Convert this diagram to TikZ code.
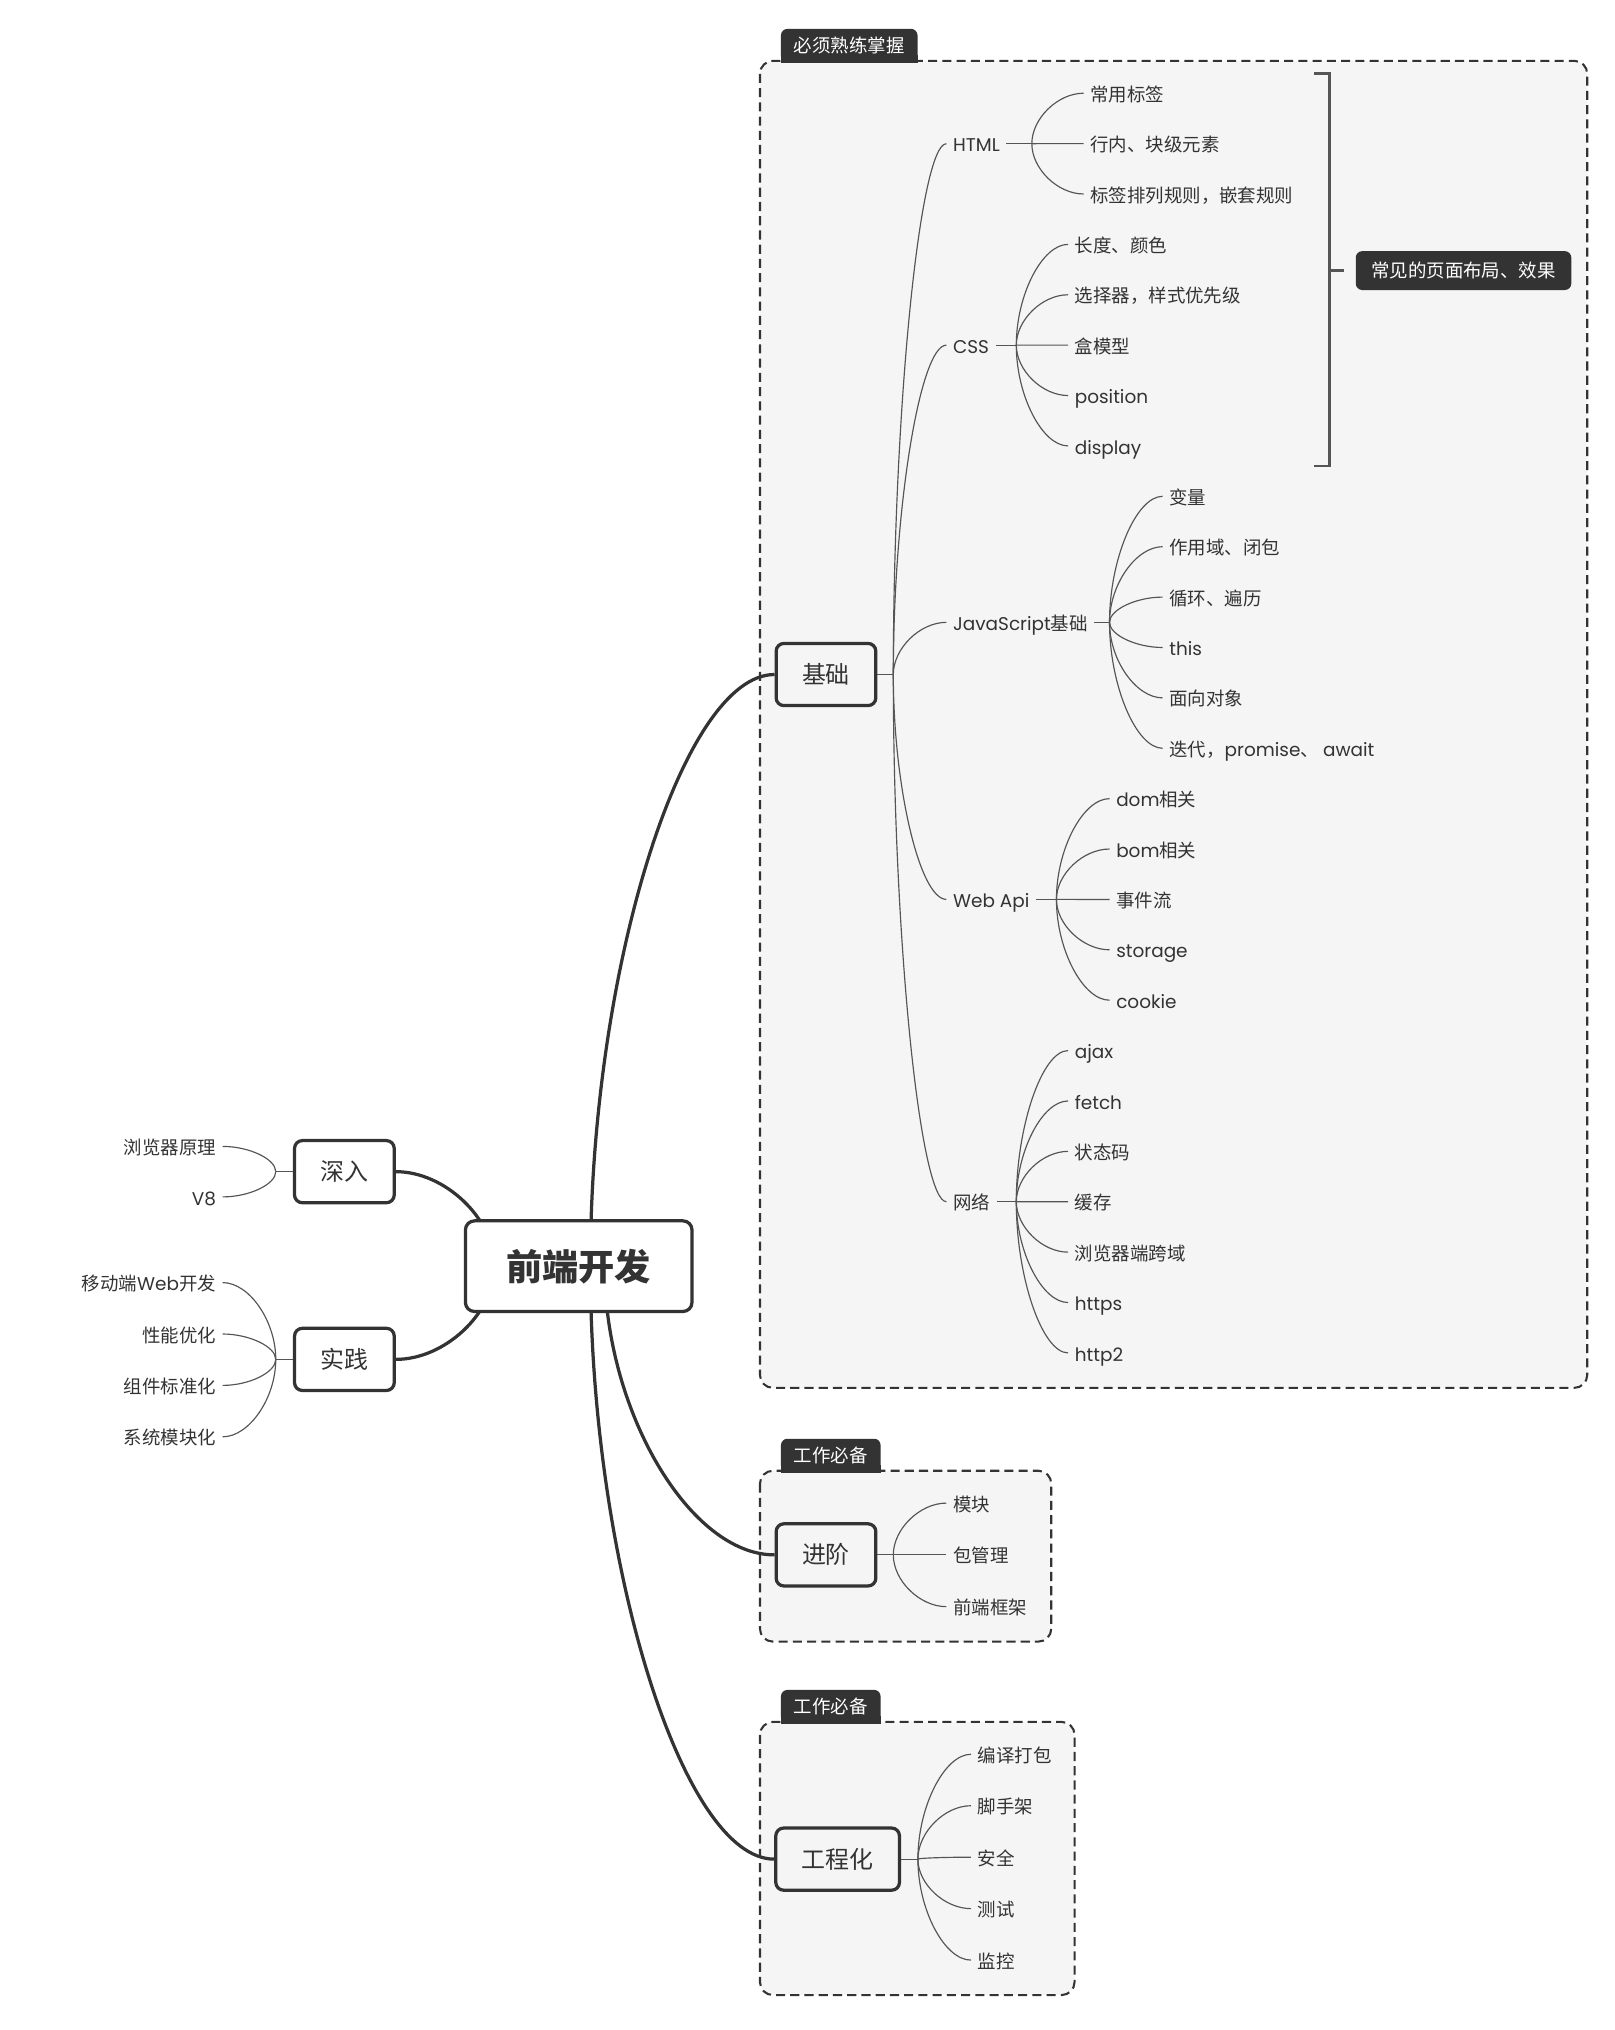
\documentclass[tikz,border=0pt]{standalone}
\usepackage{fontspec}
\setmainfont{Noto Sans CJK SC}
\newfontfamily\latfont{Poppins}
\newcommand{\eng}[1]{{\latfont #1}}
\usetikzlibrary{calc,backgrounds}
\definecolor{ink}{HTML}{333333}
\definecolor{twiggray}{HTML}{555555}
\definecolor{zone}{HTML}{F5F5F5}

\begin{document}
\begin{tikzpicture}[
    x=1pt, y=-1pt,
    root/.style={draw=ink, line width=2.5pt, rounded corners=7pt, fill=white, minimum width=175pt, minimum height=70pt, text=ink, font=\fontsize{28}{32}\selectfont\bfseries},
    topic/.style={draw=ink, line width=2.5pt, rounded corners=6pt, minimum height=48pt, inner xsep=20pt, text=ink, font=\fontsize{18.5}{22}\selectfont},
    leaf/.style={anchor=west, inner xsep=5pt, inner ysep=2pt, text height=13.5pt, text depth=1pt, text=ink, font=\fontsize{14.25}{17}\selectfont},
    lleaf/.style={leaf, anchor=east},
    zonebox/.style={draw=ink, dash pattern=on 7pt off 4pt, line width=1.6pt, rounded corners=10pt, fill=zone},
    tab/.style={fill=ink, text=white, rounded corners=5pt, inner xsep=10pt, minimum height=26pt, anchor=south west, font=\fontsize{14.25}{17}\selectfont},
    note/.style={fill=ink, text=white, rounded corners=5pt, inner xsep=12pt, minimum height=30pt, anchor=west, font=\fontsize{14.25}{17}\selectfont},
    branch/.style={draw=ink, line width=2.5pt, to path={.. controls ($(\tikztostart)!0.5!(\tikztostart|-\tikztotarget)$) and ($(\tikztotarget)!0.5!(\tikztostart|-\tikztotarget)$) .. (\tikztotarget)}},
    twig/.style={branch, draw=twiggray, line width=0.9pt}
]
    \useasboundingbox (0,0) rectangle (1247,1568);

    % dashed zones
    \begin{pgfonlayer}{background}
        \draw[zonebox] (587,47) rectangle (1226,1072);
        \draw[zonebox] (587,1136) rectangle (812,1268);
        \draw[zonebox] (587,1330) rectangle (830,1541);
    \end{pgfonlayer}
    \node[tab] (tagA) at (603,48.5) {必须熟练掌握};
    \node[tab] (tagB) at (603,1137.5) {工作必备};
    \node[tab] (tagC) at (603,1331.5) {工作必备};

    % root and main topics
    \node[root] (root) at (447,978) {前端开发};
    \node[topic] (jichu) at (638,521) {基础};
    \node[topic] (jinjie) at (638,1201) {进阶};
    \node[topic] (gongcheng) at (647,1436) {工程化};
    \node[topic] (shenru) at (266,905) {深入};
    \node[topic] (shijian) at (266,1050) {实践};
    \coordinate (hubA) at (456,978);
    \coordinate (hubB) at (467,978);
    \coordinate (hubL) at (382,978);

    % 基础
    \coordinate (fJichu) at (690,521);
    \node[leaf] (html) at (731,111) {\eng{HTML}};
    \node[leaf] (css) at (731,266.6) {\eng{CSS}};
    \node[leaf] (js) at (731,480.7) {\eng{JavaScript}基础};
    \node[leaf] (webapi) at (731,694.7) {\eng{Web Api}};
    \node[leaf] (net) at (731,928.2) {网络};
    \coordinate (fHtml) at (797,111);
    \coordinate (fCss) at (785,266.6);
    \coordinate (fJs) at (857,480.7);
    \coordinate (fWeb) at (816,694.7);
    \coordinate (fNet) at (785,928.2);
    \foreach \txt [count=\k from 0] in {常用标签, 行内、块级元素, 标签排列规则，嵌套规则}
        \node[leaf] (html\k) at (837,{72+38.92*\k}) {\txt};
    \foreach \txt [count=\k from 3] in {长度、颜色, 选择器，样式优先级, 盒模型, \eng{position}, \eng{display}}
        \node[leaf] (css\k) at (825,{72+38.92*\k}) {\txt};
    \foreach \txt [count=\k from 8] in {变量, 作用域、闭包, 循环、遍历, \eng{this}, 面向对象, 迭代，\eng{promise}、 \eng{await}}
        \node[leaf] (js\k) at (898,{72+38.92*\k}) {\txt};
    \foreach \txt [count=\k from 14] in {\eng{dom}相关, \eng{bom}相关, 事件流, \eng{storage}, \eng{cookie}}
        \node[leaf] (webapi\k) at (857,{72+38.92*\k}) {\txt};
    \foreach \txt [count=\k from 19] in {\eng{ajax}, \eng{fetch}, 状态码, 缓存, 浏览器端跨域, \eng{https}, \eng{http2}}
        \node[leaf] (net\k) at (825,{72+38.92*\k}) {\txt};

    % bracket and its note
    \draw[twiggray, line width=2pt] (1015,57) -- (1027,57) -- (1027,360) -- (1015,360);
    \coordinate (bmid) at (1027,209);
    \node[note] (layout) at (1047,209) {常见的页面布局、效果};
    \draw[twiggray, line width=2pt] (bmid) -- ([xshift=-9pt]layout.west);

    % 进阶, 工程化
    \coordinate (fJinjie) at (690,1201);
    \foreach \txt [count=\k from 0] in {模块, 包管理, 前端框架}
        \node[leaf] (jj\k) at (731,{1161+40*\k}) {\txt};
    \coordinate (fGong) at (709,1436);
    \foreach \txt [count=\k from 0] in {编译打包, 脚手架, 安全, 测试, 监控}
        \node[leaf] (gc\k) at (750,{1355+39.75*\k}) {\txt};

    % 深入, 实践
    \coordinate (fShenru) at (213,905);
    \node[lleaf] (sr0) at (172,885.5) {浏览器原理};
    \node[lleaf] (sr1) at (172,924.5) {\eng{V8}};
    \coordinate (fShijian) at (213,1050);
    \foreach \txt [count=\k from 0] in {移动端\eng{Web}开发, 性能优化, 组件标准化, 系统模块化}
        \node[lleaf] (sj\k) at (172,{990.7+39.7*\k}) {\txt};

    % connectors
    \begin{pgfonlayer}{background}
        \foreach \t in {tagA,tagB,tagC}
            \fill[ink] ([yshift=6pt]\t.south west) rectangle (\t.south east);
        \draw[branch] (hubA) to (jichu.west);
        \draw[branch] (hubB) to (jinjie.west);
        \draw[branch] (hubA) to (gongcheng.west);
        \draw[branch] (hubL) to (shenru.east);
        \draw[branch] (hubL) to (shijian.east);
    \end{pgfonlayer}
    \draw[twig] (jichu.east) -- (fJichu);
    \foreach \n in {html,css,js,webapi,net}
        \draw[twig] (fJichu) to (\n.west);
    \draw[twig] (html.east) -- (fHtml);
    \draw[twig] (css.east) -- (fCss);
    \draw[twig] (js.east) -- (fJs);
    \draw[twig] (webapi.east) -- (fWeb);
    \draw[twig] (net.east) -- (fNet);
    \foreach \k in {0,...,2} \draw[twig] (fHtml) to (html\k.west);
    \foreach \k in {3,...,7} \draw[twig] (fCss) to (css\k.west);
    \foreach \k in {8,...,13} \draw[twig] (fJs) to (js\k.west);
    \foreach \k in {14,...,18} \draw[twig] (fWeb) to (webapi\k.west);
    \foreach \k in {19,...,25} \draw[twig] (fNet) to (net\k.west);
    \draw[twig] (jinjie.east) -- (fJinjie);
    \foreach \k in {0,...,2} \draw[twig] (fJinjie) to (jj\k.west);
    \draw[twig] (gongcheng.east) -- (fGong);
    \foreach \k in {0,...,4} \draw[twig] (fGong) to (gc\k.west);
    \draw[twig] (shenru.west) -- (fShenru);
    \foreach \k in {0,1} \draw[twig] (fShenru) to (sr\k.east);
    \draw[twig] (shijian.west) -- (fShijian);
    \foreach \k in {0,...,3} \draw[twig] (fShijian) to (sj\k.east);

\end{tikzpicture}
\end{document}
